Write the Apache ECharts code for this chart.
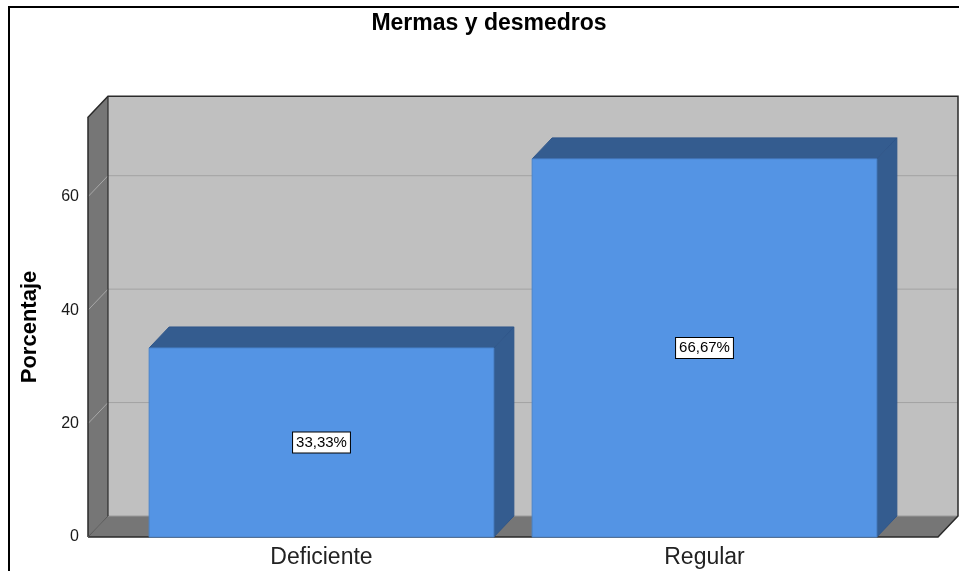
<!DOCTYPE html>
<html>
<head>
<meta charset="utf-8">
<script src="https://cdn.jsdelivr.net/npm/echarts@6/dist/echarts.min.js"></script>
<style>html,body{margin:0;padding:0;background:#fff;}#c{width:959px;height:571px;}</style>
</head>
<body>
<div id="c"></div>
<script>
const categories = ['Deficiente', 'Regular'];
const values = [33.33, 66.67];
const yTicks = [0, 20, 40, 60];
const wallTopValue = 74;
const titleText = 'Mermas y desmedros';
const yTitle = 'Porcentaje';

const DX = 20;          // 3D depth in px (horizontal)
const DY = 21;          // 3D depth in px (vertical)
const EXT = 42;         // floor extension beyond category axis
const FONT = 'Liberation Sans, Arial, sans-serif';

function fmt(v){ return v.toFixed(2).replace('.', ',') + '%'; }

const chart = echarts.init(document.getElementById('c'), null, {renderer:'canvas'});

function renderWalls(params, api){
  const cs = params.coordSys;
  const x0 = cs.x - EXT, x1 = cs.x + cs.width + EXT;
  const y0 = api.coord([0, 0])[1];
  const yT = api.coord([0, wallTopValue])[1];
  const ch = [];
  ch.push({type:'polygon', shape:{points:[[x0+DX,yT-DY],[x1+DX,yT-DY],[x1+DX,y0-DY],[x0+DX,y0-DY]]},
    style:{fill:'#c0c0c0', stroke:null}});
  ch.push({type:'polygon', shape:{points:[[x0,y0],[x0,yT],[x0+DX,yT-DY],[x0+DX,y0-DY]]},
    style:{fill:'#767676', stroke:null}});
  ch.push({type:'polygon', shape:{points:[[x0,y0],[x1,y0],[x1+DX,y0-DY],[x0+DX,y0-DY]]},
    style:{fill:'#767676', stroke:null}});
  yTicks.forEach(function(t){
    if (t === 0) return;
    const y = api.coord([0, t])[1];
    ch.push({type:'line', shape:{x1:x0+DX, y1:y-DY, x2:x1+DX, y2:y-DY}, style:{stroke:'#a3a3a3', lineWidth:1}});
    ch.push({type:'line', shape:{x1:x0, y1:y, x2:x0+DX, y2:y-DY}, style:{stroke:'#a8a8a8', lineWidth:1}});
  });
  ch.push({type:'line', shape:{x1:x0+DX, y1:y0-DY, x2:x1+DX, y2:y0-DY}, style:{stroke:'#9a9a9a', lineWidth:1}});
  ch.push({type:'polyline', shape:{points:[[x0,y0],[x0,yT],[x0+DX,yT-DY],[x1+DX,yT-DY],[x1+DX,y0-DY],[x1,y0],[x0,y0]]},
    style:{stroke:'#2a2a2a', lineWidth:1.5, fill:null}});
  ch.push({type:'line', shape:{x1:x0+DX, y1:yT-DY, x2:x0+DX, y2:y0-DY}, style:{stroke:'#2a2a2a', lineWidth:1.2}});
  ch.push({type:'line', shape:{x1:x0, y1:y0, x2:x0+DX, y2:y0-DY}, style:{stroke:'#555', lineWidth:1}});
  return {type:'group', children: ch};
}

function renderBar(params, api){
  const idx = api.value(0), v = api.value(1);
  const top = api.coord([idx, v]);
  const base = api.coord([idx, 0]);
  const w = api.size([1, 0])[0] * 0.9;
  const xl = top[0] - w/2, xr = top[0] + w/2, yt = top[1], yb = base[1];
  const edge = '#2f568a';
  return {type:'group', children:[
    {type:'polygon', shape:{points:[[xr,yt],[xr+DX,yt-DY],[xr+DX,yb-DY],[xr,yb]]},
      style:{fill:'#345c8f', stroke:edge, lineWidth:1}},
    {type:'polygon', shape:{points:[[xl,yt],[xr,yt],[xr+DX,yt-DY],[xl+DX,yt-DY]]},
      style:{fill:'#345c8f', stroke:edge, lineWidth:1}},
    {type:'rect', shape:{x:xl, y:yt, width:w, height:yb-yt},
      style:{fill:'#5494e4', stroke:'#4a84cc', lineWidth:1}},
    {type:'text', x: top[0], y: (yt+yb)/2,
      style:{text: fmt(v), fill:'#000', font:'15px ' + FONT, align:'center', verticalAlign:'middle',
        backgroundColor:'#fff', borderColor:'#000', borderWidth:1, padding:[3,3,2,3]}}
  ]};
}

chart.setOption({
  animation:false,
  backgroundColor:'#fff',
  title:{text:titleText, left:484, top:7, textAlign:'center',
    textStyle:{fontFamily:FONT, fontSize:23, fontWeight:'bold', color:'#000'}},
  grid:{left:130, right:63, top:140, bottom:34},
  xAxis:{type:'category', data:categories,
    axisLine:{show:false}, axisTick:{show:false}, splitLine:{show:false},
    axisLabel:{fontFamily:FONT, fontSize:23, color:'#222', margin:9}},
  yAxis:{type:'value', min:0, max:70, interval:20,
    axisLine:{show:false}, axisTick:{show:false}, splitLine:{show:false},
    axisLabel:{fontFamily:FONT, fontSize:16, color:'#1a1a1a', margin:51, padding:[3,0,0,0],
      formatter:function(v){ return yTicks.indexOf(v) >= 0 ? String(v) : ''; }}},
  graphic:[
    {type:'rect', shape:{x:9, y:7, width:1000, height:1000}, style:{fill:null, stroke:'#000', lineWidth:2}, z:100},
    {type:'text', x:30, y:327, rotation:Math.PI/2,
      style:{text:yTitle, font:'bold 22px ' + FONT, fill:'#000', align:'center', verticalAlign:'middle'}}
  ],
  series:[
    {type:'custom', z:1, silent:true, renderItem:renderWalls, data:[[0,0]], clip:false},
    {type:'custom', z:2, silent:true, renderItem:renderBar, encode:{x:0, y:1},
      data: values.map(function(v,i){ return [i, v]; }), clip:false}
  ]
});
</script>
</body>
</html>
